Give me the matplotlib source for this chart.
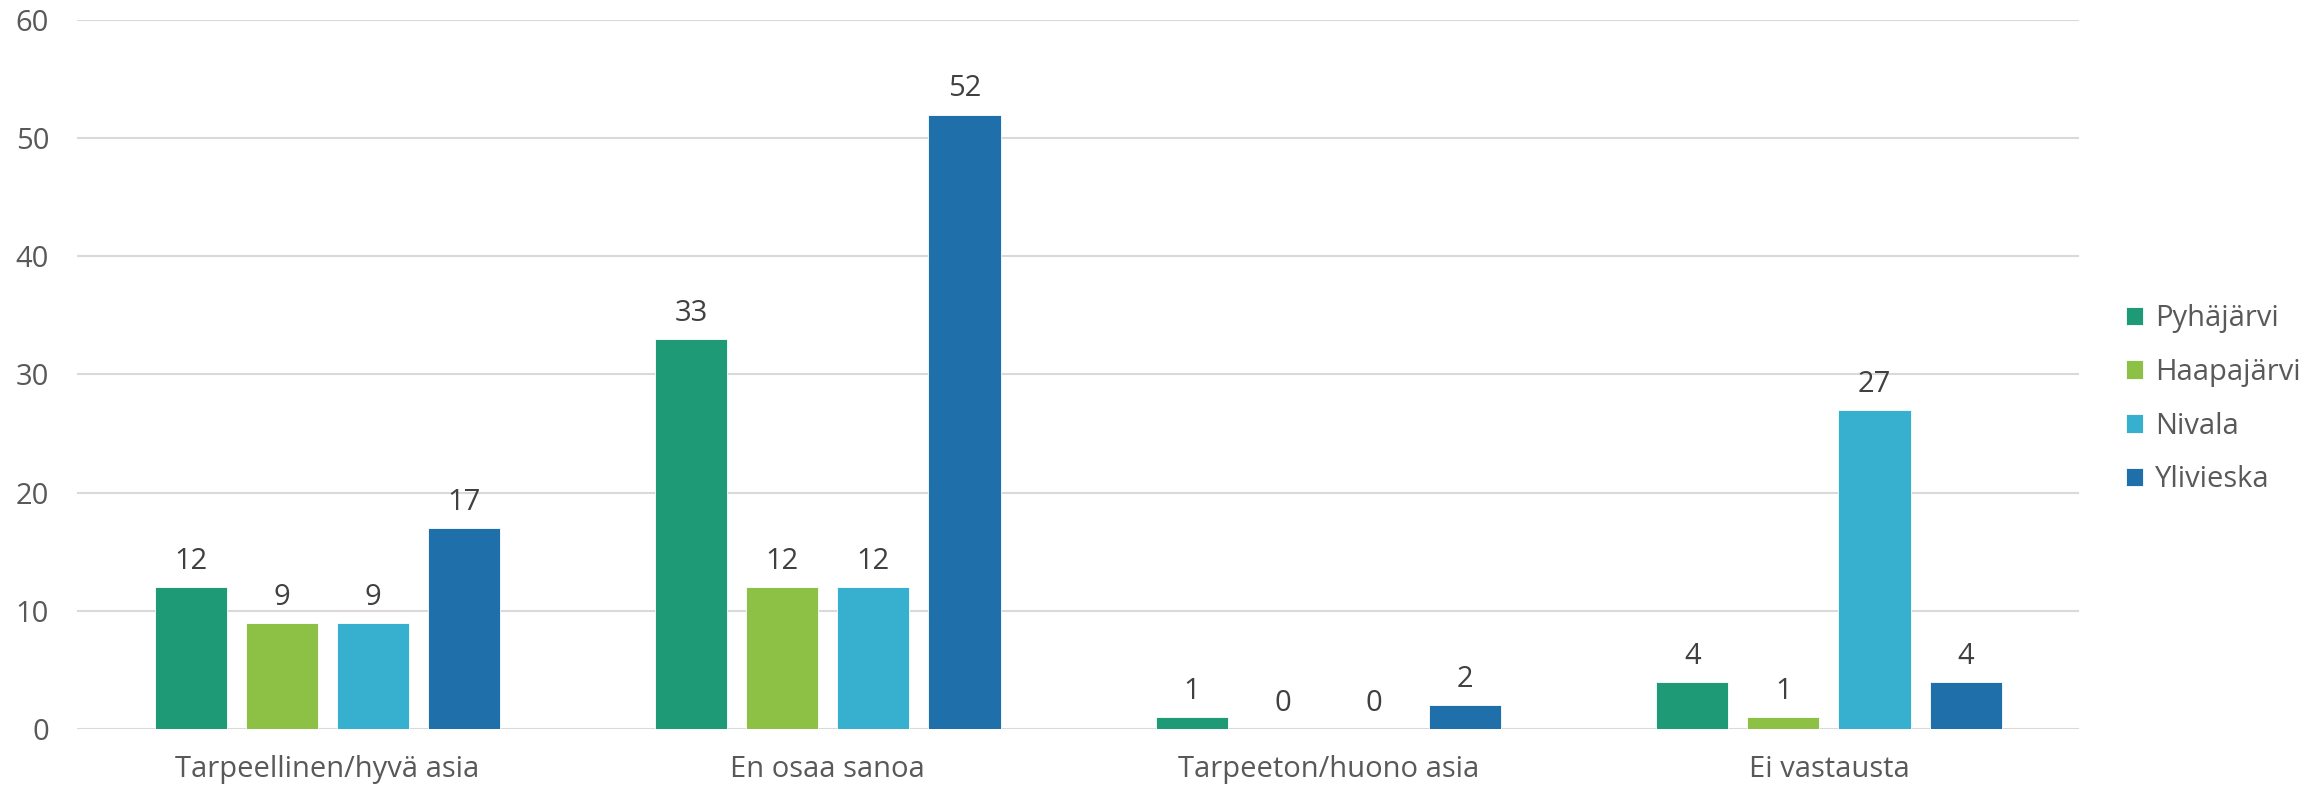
import matplotlib.pyplot as plt
import numpy as np

plt.rcParams['font.family'] = ['Open Sans', 'DejaVu Sans']

categories = ['Tarpeellinen/hyvä asia', 'En osaa sanoa', 'Tarpeeton/huono asia', 'Ei vastausta']
series = ['Pyhäjärvi', 'Haapajärvi', 'Nivala', 'Ylivieska']
pyhajarvi = [12, 33, 1, 4]
haapajarvi = [9, 12, 0, 1]
nivala = [9, 12, 0, 27]
ylivieska = [17, 52, 2, 4]
values = [pyhajarvi, haapajarvi, nivala, ylivieska]
colors = ['#1F9A77', '#8CC146', '#37AFCF', '#1E6FAA']

fig = plt.figure(figsize=(23.18, 7.88), dpi=100)
ax = fig.add_axes([0.0332, 0.0749, 0.8638, 0.8997])

x = np.arange(len(categories))
step = 0.182
width = 0.144
for i, (name, vals, c) in enumerate(zip(series, values, colors)):
    pos = x + (i - 1.5) * step
    ax.bar(pos, vals, width, color=c, label=name, edgecolor='white', linewidth=0.6, zorder=3)
    for xp, v in zip(pos, vals):
        ax.annotate(str(v), (xp, v), xytext=(0, 8), textcoords='offset points',
                    ha='center', va='bottom', fontsize=21, color='#404040')

ax.set_xlim(-0.5, 3.5)
ax.set_ylim(0, 60)
ax.set_yticks(range(0, 61, 10))
ax.set_xticks(x)
ax.set_xticklabels(categories)
ax.grid(axis='y', color='#D9D9D9', linewidth=1.5, zorder=0)
for s in ax.spines.values():
    s.set_visible(False)
ax.tick_params(axis='both', length=0, labelsize=21, labelcolor='#595959')
ax.tick_params(axis='y', pad=20)
ax.tick_params(axis='x', pad=19)

ax.legend(loc='center left', bbox_to_anchor=(1.01, 0.465), frameon=False, fontsize=21,
          labelcolor='#595959', handlelength=0.6, handleheight=0.6, handletextpad=0.4,
          labelspacing=0.85)

fig.savefig('out.png', dpi=100)
